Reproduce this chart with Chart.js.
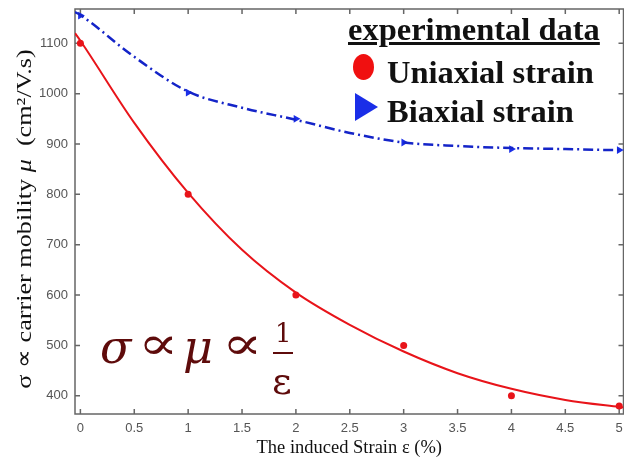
<!DOCTYPE html>
<html>
<head>
<meta charset="utf-8">
<script src="https://cdn.jsdelivr.net/npm/chart.js@4.4.1/dist/chart.umd.min.js"></script>
<style>
  body { margin: 0; background: #fff; }
  #wrap { position: relative; width: 624px; height: 462px; overflow: hidden; }
  #box { position: absolute; left: 0; top: 0; width: 628px; height: 462px; }
  #legend, #formula { position: absolute; left: 0; top: 0; width: 624px; height: 462px; pointer-events: none; }
  .lg { position: absolute; font-family: "Liberation Serif", serif; font-weight: bold; font-size: 32.5px; color: #111; white-space: nowrap; line-height: 1; }
  .f { position: absolute; font-family: "DejaVu Serif", serif; color: #5e0b0b; white-space: nowrap; line-height: 1; }
  #ytitle { position: absolute; left: 24px; top: 219px; font-family: "Liberation Serif", serif; font-size: 22px; color: #111; white-space: pre; line-height: 1;
            transform: translate(-50%, -50%) rotate(-90deg) scaleX(1.19); }
</style>
</head>
<body>
<div id="wrap">
  <div id="box"><canvas id="chart"></canvas></div>
  <div id="ytitle">σ ∝ carrier mobility <i>μ</i>  (cm²/V.s)</div>
  <div id="legend">
    <div class="lg" style="left:348px; top:13px; text-decoration: underline;">experimental data</div>
    <div style="position:absolute; left:353px; top:54px; width:21px; height:26px; border-radius:50%; background:#f01010;"></div>
    <div class="lg" style="left:387px; top:56px;">Uniaxial strain</div>
    <div style="position:absolute; left:355px; top:93px; width:0; height:0; border-top:14px solid transparent; border-bottom:14px solid transparent; border-left:23px solid #1a2ee8;"></div>
    <div class="lg" style="left:387px; top:95px;">Biaxial strain</div>
  </div>
  <div id="formula">
    <span class="f" style="left:100px; top:324px; font-size:46px; font-style:italic;">σ</span>
    <span class="f" style="left:138px; top:320px; font-size:46px; transform: scaleX(1.3); transform-origin: left;">∝</span>
    <span class="f" style="left:183px; top:324px; font-size:46px; font-style:italic;">μ</span>
    <span class="f" style="left:222px; top:320px; font-size:46px; transform: scaleX(1.3); transform-origin: left;">∝</span>
    <span class="f" style="left:275px; top:320px; font-size:26px;">1</span>
    <span style="position:absolute; left:273px; top:352px; width:20px; height:2px; background:#5e0b0b;"></span>
    <span class="f" style="left:272px; top:362px; font-size:38px;">ε</span>
  </div>
</div>
<script>
// valeurs
const strain = [0, 1, 2, 3, 4, 5];
const uniaxial = [1100, 800, 600, 500, 400, 380];
const biaxial = [1155, 1002, 950, 903, 890, 888];

// courbes d'ajustement
const fitStrain = [-0.05, 0, 0.5, 1, 1.5, 2, 2.5, 3, 3.5, 4, 4.5, 5, 5.04];
const uniaxialFit = [1120, 1105, 942, 803, 690, 605, 541, 488, 445, 414, 392, 378, 377];
const biaxialFit = [1162, 1156, 1073, 1004, 972, 948, 922, 903, 896, 892, 890, 888, 888];

const xTicks = [0, 0.5, 1, 1.5, 2, 2.5, 3, 3.5, 4, 4.5, 5];
const yTicks = [400, 500, 600, 700, 800, 900, 1000, 1100];

const toPoints = (xs, ys) => xs.map((x, i) => ({ x: x, y: ys[i] }));

// cadre et graduations vers l'intérieur (style MATLAB)
const framePlugin = {
    id: 'frame',
    beforeDatasetsDraw(chart) {
        const { ctx, chartArea: a, scales: { x, y } } = chart;
        ctx.save();
        ctx.strokeStyle = '#666';
        ctx.lineWidth = 1.5;
        ctx.strokeRect(a.left, a.top, a.right - a.left, a.bottom - a.top);
        ctx.beginPath();
        x.ticks.forEach(t => {
            const px = x.getPixelForValue(t.value);
            ctx.moveTo(px, a.bottom); ctx.lineTo(px, a.bottom - 5);
            ctx.moveTo(px, a.top); ctx.lineTo(px, a.top + 5);
        });
        y.ticks.forEach(t => {
            const py = y.getPixelForValue(t.value);
            ctx.moveTo(a.left, py); ctx.lineTo(a.left + 5, py);
            ctx.moveTo(a.right, py); ctx.lineTo(a.right - 5, py);
        });
        ctx.stroke();
        ctx.restore();
    }
};

const ctx = document.getElementById('chart').getContext('2d');
new Chart(ctx, {
    type: 'scatter',
    data: {
        datasets: [
            {
                label: 'Uniaxial fit',
                data: toPoints(fitStrain, uniaxialFit),
                showLine: true,
                borderColor: '#e8141a',
                borderWidth: 2,
                pointRadius: 0,
                pointHoverRadius: 0,
                cubicInterpolationMode: 'monotone'
            },
            {
                label: 'Biaxial fit',
                data: toPoints(fitStrain, biaxialFit),
                showLine: true,
                borderColor: '#1424c8',
                borderWidth: 2.5,
                borderDash: [10, 4, 2, 4],
                pointRadius: 0,
                pointHoverRadius: 0,
                cubicInterpolationMode: 'monotone'
            },
            {
                label: 'Uniaxial strain',
                data: toPoints(strain, uniaxial),
                backgroundColor: '#e8141a',
                borderColor: '#e8141a',
                pointRadius: 3.5,
                pointHoverRadius: 0,
                pointBorderWidth: 0
            },
            {
                label: 'Biaxial strain',
                data: toPoints(strain, biaxial),
                backgroundColor: '#1a2ee8',
                borderColor: '#1a2ee8',
                pointStyle: 'triangle',
                rotation: 90,
                pointRadius: 4.5,
                pointHoverRadius: 0,
                pointBorderWidth: 0
            }
        ]
    },
    options: {
        responsive: true,
        maintainAspectRatio: false,
        animation: false,
        layout: { padding: { top: 9, right: 1.5, left: 0, bottom: 0 } },
        plugins: { legend: { display: false }, tooltip: { enabled: false } },
        scales: {
            x: {
                type: 'linear',
                min: -0.05,
                max: 5.04,
                afterBuildTicks: s => { s.ticks = xTicks.map(v => ({ value: v })); },
                afterFit: s => { s.height = 48; s.paddingLeft = 0; s.paddingRight = 0; },
                grid: { display: false, drawTicks: false },
                border: { display: false },
                ticks: {
                    padding: 7, color: '#555',
                    font: { family: 'Liberation Sans', size: 13 },
                    callback: v => String(v)
                },
                title: {
                    display: true,
                    text: 'The induced Strain ε (%)',
                    color: '#111',
                    font: { family: 'Liberation Serif', size: 18.5 },
                    padding: { top: 0, bottom: 3 }
                }
            },
            y: {
                min: 364,
                max: 1168,
                afterBuildTicks: s => { s.ticks = yTicks.map(v => ({ value: v })); },
                afterFit: s => { s.width = 75; s.paddingTop = 0; s.paddingBottom = 0; },
                grid: { display: false, drawTicks: false },
                border: { display: false },
                ticks: {
                    padding: 7, color: '#555',
                    font: { family: 'Liberation Sans', size: 13 },
                    callback: v => String(v)
                }
            }
        }
    },
    plugins: [framePlugin]
});
</script>
</body>
</html>
